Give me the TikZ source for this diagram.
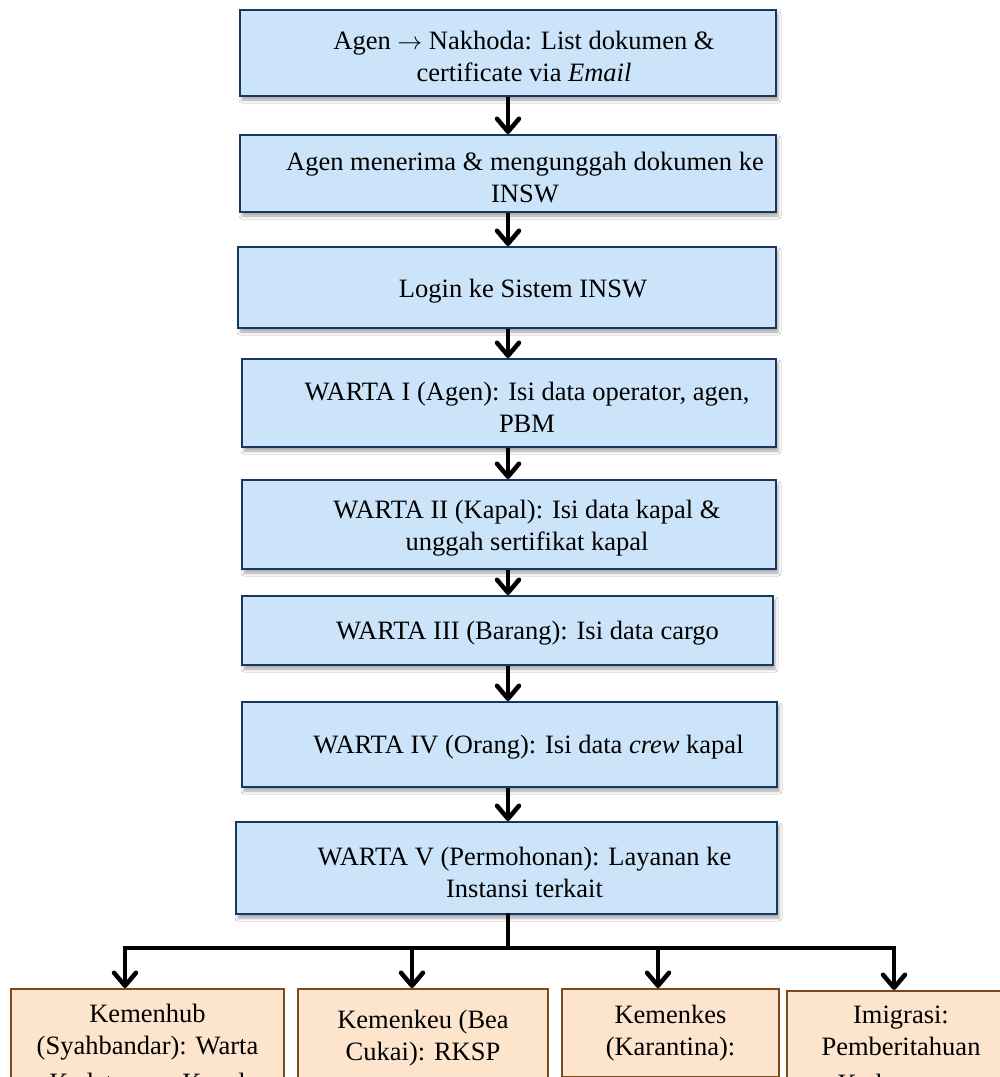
\documentclass[tikz,border=0pt]{standalone}
\usepackage{fontspec}
\setmainfont{Liberation Serif}
\usepackage{tikz}
\usetikzlibrary{arrows.meta, positioning, shadows.blur}

\definecolor{isibiru}{RGB}{204,228,250}
\definecolor{garisbiru}{RGB}{23,55,94}
\definecolor{isioranye}{RGB}{253,228,204}
\definecolor{garisoranye}{RGB}{122,74,30}

\begin{document}
\begin{tikzpicture}[
        x=1pt, y=-1pt,
        >={Straight Barb[length=13pt, width=22pt, round]},
        blok/.style={rectangle, draw=garisbiru, line width=2pt, fill=isibiru, inner sep=0pt,
            blur shadow={shadow xshift=2pt, shadow yshift=-4pt, shadow blur radius=3pt, shadow opacity=35}},
        oranye/.style={rectangle, draw=garisoranye, line width=1.8pt, fill=isioranye, inner sep=0pt},
        teks/.style={align=center, inner sep=0pt, font=\fontsize{26.5}{32}\selectfont},
        pijl/.style={->, line width=4.5pt},
        garis/.style={line width=4.5pt, line cap=rect}
    ]
        \useasboundingbox (0,0) rectangle (1000,1077);
        \clip (0,0) rectangle (1000,1077);
        \fill[white] (0,0) rectangle (1000,1077);

        % alur utama
        \node[blok, minimum width=536pt, minimum height=86pt] (b1) at (508,53)    {};
        \node[blok, minimum width=536pt, minimum height=77pt] (b2) at (508,173.5) {};
        \node[blok, minimum width=538pt, minimum height=81pt] (b3) at (507,287.5) {};
        \node[blok, minimum width=534pt, minimum height=88pt] (b4) at (509,403)   {};
        \node[blok, minimum width=534pt, minimum height=89pt] (b5) at (509,524.5) {};
        \node[blok, minimum width=531pt, minimum height=69pt] (b6) at (507.5,630.5) {};
        \node[blok, minimum width=535pt, minimum height=85pt] (b7) at (509.5,744.5) {};
        \node[blok, minimum width=541pt, minimum height=92pt] (b8) at (506.5,868) {};

        \node[teks] (t1) at ([xshift=16pt, yshift=-3pt]b1.center) {Agen $\rightarrow$ Nakhoda: List dokumen \&\\certificate via \textit{Email}};
        \node[teks] (t2) at ([xshift=17pt, yshift=-4pt]b2.center) {Agen menerima \& mengunggah dokumen ke\\INSW};
        \node[teks] (t3) at ([xshift=16pt, yshift=-4pt]b3.center) {Login ke Sistem INSW};
        \node[teks] (t4) at ([xshift=18pt, yshift=-4pt]b4.center) {WARTA I (Agen): Isi data operator, agen,\\PBM};
        \node[teks] (t5) at ([xshift=18pt, yshift=-4pt]b5.center) {WARTA II (Kapal): Isi data kapal \&\\unggah sertifikat kapal};
        \node[teks] (t6) at ([xshift=20pt, yshift=-3pt]b6.center) {WARTA III (Barang): Isi data cargo};
        \node[teks] (t7) at ([xshift=19pt, yshift=-3pt]b7.center) {WARTA IV (Orang): Isi data \textit{crew} kapal};
        \node[teks] (t8) at ([xshift=18pt, yshift=-4pt]b8.center) {WARTA V (Permohonan): Layanan ke\\Instansi terkait};

        \coordinate (cab) at (508,948);

        \draw[pijl] (b1.south -| cab) -- (b2.north -| cab);
        \draw[pijl] (b2.south -| cab) -- (b3.north -| cab);
        \draw[pijl] (b3.south -| cab) -- (b4.north -| cab);
        \draw[pijl] (b4.south -| cab) -- (b5.north -| cab);
        \draw[pijl] (b5.south -| cab) -- (b6.north -| cab);
        \draw[pijl] (b6.south -| cab) -- (b7.north -| cab);
        \draw[pijl] (b7.south -| cab) -- (b8.north -| cab);

        % instansi
        \node[oranye, anchor=north, minimum width=273pt, minimum height=140pt] (o1) at (147.5,988) {};
        \node[oranye, anchor=north, minimum width=250pt, minimum height=140pt] (o2) at (423,988)   {};
        \node[oranye, anchor=north, minimum width=217pt, minimum height=88pt]  (o3) at (670.5,988) {};
        \node[oranye, anchor=north, minimum width=228pt, minimum height=140pt] (o4) at (901,990)   {};

        \node[teks, anchor=north] (p1) at (147.5,1004) {Kemenhub\\(Syahbandar): Warta\\[5pt]Kedatangan Kapal};
        \node[teks, anchor=north] (p2) at (423,1010)   {Kemenkeu (Bea\\Cukai): RKSP};
        \node[teks, anchor=north] (p3) at (670.5,1005) {Kemenkes\\(Karantina):};
        \node[teks, anchor=north] (p4) at (901,1006)   {Imigrasi:\\Pemberitahuan\\[5pt]Kedatangan};

        \coordinate (k1) at (125,948);
        \coordinate (k2) at (412,948);
        \coordinate (k3) at (658,948);
        \coordinate (k4) at (894,948);

        \draw[garis] (b8.south -| cab) -- (cab);
        \draw[garis] (k1) -- (k4);
        \draw[pijl] (k1) -- (k1 |- o1.north);
        \draw[pijl] (k2) -- (k2 |- o2.north);
        \draw[pijl] (k3) -- (k3 |- o3.north);
        \draw[pijl] (k4) -- (k4 |- o4.north);
    \end{tikzpicture}
\end{document}
